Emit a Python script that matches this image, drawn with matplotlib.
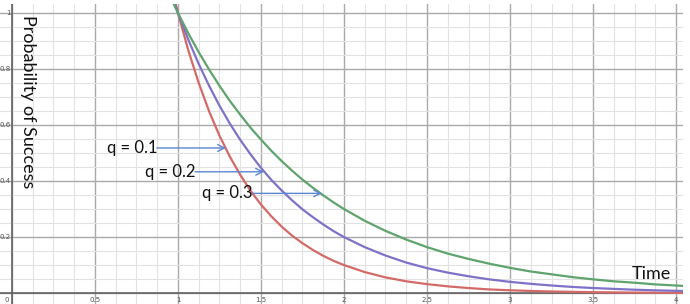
import matplotlib
matplotlib.use("Agg")
import matplotlib.pyplot as plt
import numpy as np

# Sampled readings from the chart (time, probability)
time = [0.95, 0.975, 1.0, 1.0625, 1.125, 1.1875, 1.25, 1.3125, 1.375, 1.4375, 1.5, 1.5625, 1.625,
        1.6875, 1.75, 1.8125, 1.875, 1.9375, 2.0, 2.125, 2.25, 2.375, 2.5,
        2.625, 2.75, 2.875, 3.0, 3.125, 3.25, 3.375, 3.5, 3.625, 3.75, 3.875, 4.0, 4.125]
p_q01 = [1.122, 1.059, 1.0, 0.866, 0.750, 0.649, 0.562, 0.487, 0.422, 0.365, 0.316, 0.274, 0.237,
         0.205, 0.178, 0.154, 0.133, 0.115, 0.100, 0.075, 0.056, 0.042, 0.032,
         0.024, 0.018, 0.013, 0.010, 0.0075, 0.0056, 0.0042, 0.0032, 0.0024, 0.0018, 0.0013, 0.001, 0.0008]
p_q02 = [1.084, 1.041, 1.0, 0.904, 0.818, 0.740, 0.669, 0.605, 0.547, 0.495, 0.447, 0.404, 0.366,
         0.331, 0.299, 0.271, 0.245, 0.221, 0.200, 0.164, 0.134, 0.109, 0.089,
         0.073, 0.060, 0.049, 0.040, 0.033, 0.027, 0.022, 0.018, 0.015, 0.012, 0.0098, 0.008, 0.0065]
p_q03 = [1.062, 1.031, 1.0, 0.927, 0.860, 0.798, 0.740, 0.686, 0.637, 0.590, 0.548, 0.508, 0.471,
         0.437, 0.405, 0.376, 0.349, 0.3235, 0.300, 0.258, 0.222, 0.191, 0.164,
         0.141, 0.122, 0.105, 0.090, 0.077, 0.067, 0.057, 0.049, 0.042, 0.037, 0.031, 0.027, 0.023]

series_labels = ["q = 0.1", "q = 0.2", "q = 0.3"]
x_tick_vals = [0.5, 1, 1.5, 2, 2.5, 3, 3.5, 4]
x_tick_text = ["0.5", "1", "1.5", "2", "2.5", "3", "3.5", "4"]
y_tick_vals = [0.2, 0.4, 0.6, 0.8, 1.0]
y_tick_text = ["0.2", "0.4", "0.6", "0.8", "1"]

fig = plt.figure(figsize=(6.9, 3.04), dpi=100)
ax = fig.add_axes([0, 0, 683/690, 300/304])
ax.set_xlim(-0.072, 4.042)
ax.set_ylim(-0.039, 1.032)
ax.axis("off")

# grid
for xv in np.arange(-0.0, 4.1, 0.125):
    major = abs(xv / 0.5 - round(xv / 0.5)) < 1e-6
    ax.axvline(xv, color="#a9a9a9" if major else "#e2e2e2", lw=1.0 if major else 0.8, zorder=0)
for yv in np.arange(0.0, 1.04, 0.05):
    major = abs(yv / 0.2 - round(yv / 0.2)) < 1e-6
    ax.axhline(yv, color="#a9a9a9" if major else "#e2e2e2", lw=1.0 if major else 0.8, zorder=0)
ax.axhline(0, color="#5a5a5a", lw=1.1, zorder=1)
ax.axvline(0, color="#5a5a5a", lw=1.1, zorder=1)

# tick labels
for xv, t in zip(x_tick_vals, x_tick_text):
    ax.text(xv, -0.013, t, ha="center", va="top", fontsize=5, color="#555555")
ax.text(-0.018, -0.013, "0", ha="right", va="top", fontsize=5, color="#555555")
for yv, t in zip(y_tick_vals, y_tick_text):
    ax.text(-0.008, yv, t, ha="right", va="center", fontsize=5, color="#555555")

# curves
ax.plot(time, p_q01, color="#d46a67", lw=1.6, zorder=3, solid_joinstyle="round")
ax.plot(time, p_q02, color="#7e72c8", lw=1.6, zorder=3, solid_joinstyle="round")
ax.plot(time, p_q03, color="#5fa36d", lw=1.6, zorder=3, solid_joinstyle="round")

# annotations
arrow_color = "#5b86d0"
ann = [
    (series_labels[0], 0.572, 0.518, 0.873, 1.289),
    (series_labels[1], 0.801, 0.433, 1.102, 1.518),
    (series_labels[2], 1.145, 0.356, 1.452, 1.867),
]
for lab, tx, ty, x0, x1 in ann:
    ax.text(tx, ty, lab, ha="left", va="center", fontsize=12, family="Lato", color="#111111")
    ax.annotate("", xy=(x1, ty), xytext=(x0, ty),
                arrowprops=dict(arrowstyle="->", color=arrow_color, lw=1.0,
                                shrinkA=0, shrinkB=0, mutation_scale=12), zorder=4)

ax.text(0.096, 0.993, "Probability of Success", rotation=-90, ha="center", va="top",
        fontsize=13, family="Lato", color="#111111")
ax.text(3.735, 0.068, "Time", ha="left", va="center", fontsize=13, family="Lato", color="#111111")

fig.savefig("out.png", dpi=100)
